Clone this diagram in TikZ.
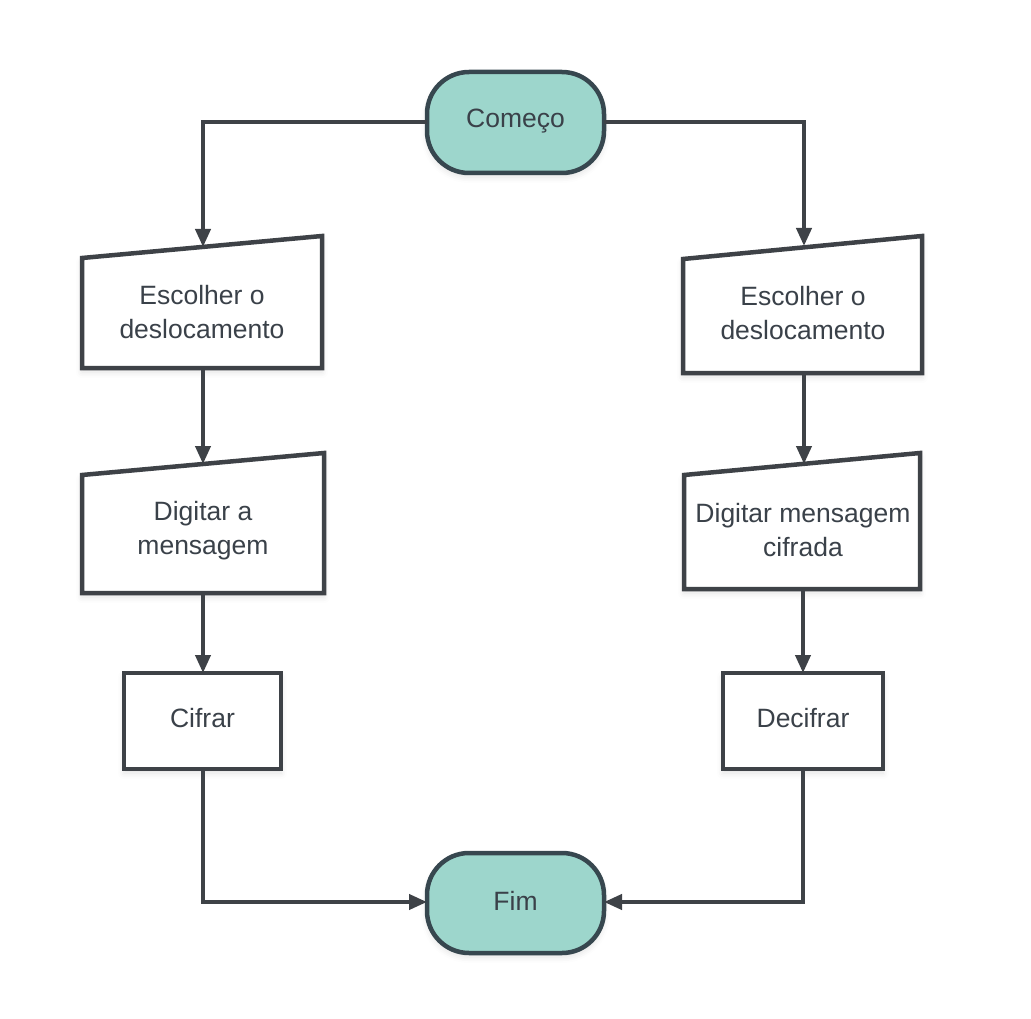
\documentclass[tikz,border=0pt]{standalone}
\usepackage{fontspec}
\setmainfont{Liberation Sans}
\usetikzlibrary{arrows.meta,shadows.blur}
\definecolor{linec}{HTML}{3E4247}
\definecolor{termfill}{HTML}{9DD6CC}
\definecolor{termdraw}{HTML}{37474F}
\definecolor{textc}{HTML}{3A4149}
\tikzset{
  conn/.style={draw=linec, line width=4pt, -{Triangle[length=18pt,width=15pt]}},
  shapebox/.style={draw=linec, line width=4.5pt, fill=white, line join=miter,
    blur shadow={shadow xshift=0pt, shadow yshift=-4pt, shadow blur radius=6pt, shadow opacity=12}},
  terminal/.style={draw=termdraw, line width=4.5pt, fill=termfill, rounded corners=42pt,
    blur shadow={shadow xshift=0pt, shadow yshift=-4pt, shadow blur radius=6pt, shadow opacity=12}},
  lbl/.style={text=textc, align=center, font=\fontsize{26.5}{34}\selectfont, inner sep=0pt},
}
\begin{document}
\begin{tikzpicture}[x=1pt,y=-1pt]
\useasboundingbox (0,0) rectangle (1031,1019);
% terminals
\draw[terminal] (427,72) rectangle (604,173);
\node[lbl] (start) at (515.5,121) {Começo};
\draw[terminal] (427,853) rectangle (604,953);
\node[lbl] (fim) at (515.5,901) {Fim};
% left column
\draw[shapebox] (82,258) -- (322,236) -- (322,368) -- (82,368) -- cycle;
\node[lbl] (l1) at (202,312) {Escolher o\\deslocamento};
\draw[shapebox] (82,475) -- (324,453) -- (324,593) -- (82,593) -- cycle;
\node[lbl] (l2) at (203,531) {Digitar a\\mensagem};
\draw[shapebox] (124,673) rectangle (281,769);
\node[lbl] (l3) at (202.5,718) {Cifrar};
% right column
\draw[shapebox] (683,259) -- (922,236) -- (922,373) -- (683,373) -- cycle;
\node[lbl] (r1) at (803,313) {Escolher o\\deslocamento};
\draw[shapebox] (684,475) -- (920,453) -- (920,589) -- (684,589) -- cycle;
\node[lbl] (r2) at (803,530) {Digitar mensagem\\cifrada};
\draw[shapebox] (723,673) rectangle (883,769);
\node[lbl] (r3) at (803,718) {Decifrar};
% anchor coordinates
\coordinate (startW) at (427,122);
\coordinate (startE) at (604,122);
\coordinate (fimW) at (427,902);
\coordinate (fimE) at (604,902);
\coordinate (l1t) at (203,247);
\coordinate (l1b) at (203,368);
\coordinate (l2t) at (203,464);
\coordinate (l2b) at (203,593);
\coordinate (l3t) at (203,673);
\coordinate (l3b) at (203,769);
\coordinate (r1t) at (804,246);
\coordinate (r1b) at (804,373);
\coordinate (r2t) at (804,464);
\coordinate (r2b) at (803,589);
\coordinate (r3t) at (803,673);
\coordinate (r3b) at (803,769);
% connectors
\draw[conn] (startW) -| (l1t);
\draw[conn] (startE) -| (r1t);
\draw[conn] (l1b) -- (l2t);
\draw[conn] (l2b) -- (l3t);
\draw[conn] (l3b) |- (fimW);
\draw[conn] (r1b) -- (r2t);
\draw[conn] (r2b) -- (r3t);
\draw[conn] (r3b) |- (fimE);
\end{tikzpicture}
\end{document}
